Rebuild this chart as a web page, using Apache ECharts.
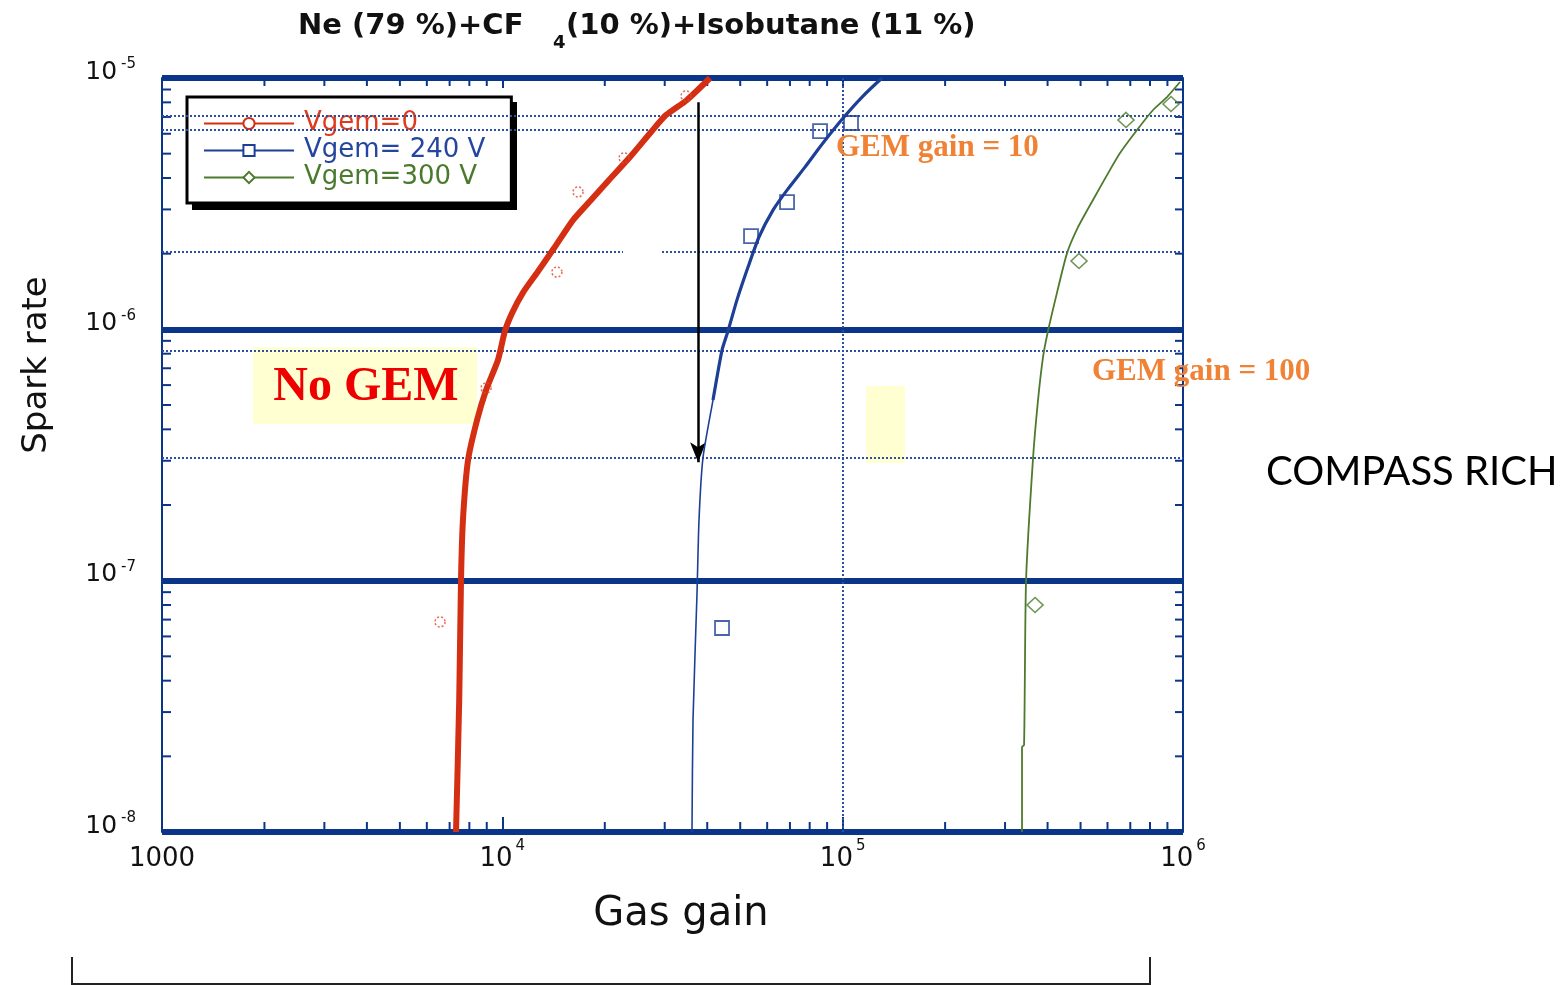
<!DOCTYPE html>
<html>
<head>
<meta charset="utf-8">
<script src="https://cdn.jsdelivr.net/npm/echarts@6/dist/echarts.min.js"></script>
<style>
  html, body { margin: 0; padding: 0; background: #fff; }
  #chart { width: 1565px; height: 985px; }
</style>
</head>
<body>
<div id="chart"></div>
<script>
// ---------------- data ----------------
const seriesNames = ['Vgem=0', 'Vgem= 240 V', 'Vgem=300 V'];

const redCurveX = [7310, 7470, 7560, 7660, 7930, 8430, 8960, 9710, 10180, 10680, 11500, 12650, 14280, 16130, 18220, 20580, 23720, 27350, 30260, 34880, 40750];
const redCurveY = [1e-8, 3.35e-8, 1e-7, 1.74e-7, 3.02e-7, 4.36e-7, 5.74e-7, 7.55e-7, 9.85e-7, 1.16e-6, 1.40e-6, 1.68e-6, 2.13e-6, 2.72e-6, 3.27e-6, 3.93e-6, 4.85e-6, 6.1e-6, 7.12e-6, 8.18e-6, 1e-5];

const blueCurveX = [36080, 36330, 37330, 37830, 38860, 41590, 44210, 46040, 48920, 52720, 56780, 62420, 68640, 77500, 87540, 100900, 114000, 130500];
const blueCurveY = [1e-8, 2.79e-8, 8.93e-8, 1.74e-7, 3.08e-7, 5.23e-7, 8.27e-7, 9.85e-7, 1.31e-6, 1.77e-6, 2.33e-6, 2.98e-6, 3.58e-6, 4.42e-6, 5.51e-6, 6.99e-6, 8.4e-6, 1e-5];

const greenCurveX = [336500, 336500, 341200, 345800, 362600, 375000, 387900, 401200, 426400, 456300, 491500, 543900, 610200, 653100, 732600, 816600, 897400, 980000];
const greenCurveY = [1e-8, 2.18e-8, 2.22e-8, 1.0e-7, 3.08e-7, 5.23e-7, 7.76e-7, 9.85e-7, 1.40e-6, 2.01e-6, 2.55e-6, 3.27e-6, 4.31e-6, 5.03e-6, 6.21e-6, 7.46e-6, 8.4e-6, 9.64e-6];

const redMarkX = [6560, 8960, 14470, 16690, 22790, 34650];
const redMarkY = [6.85e-8, 5.84e-7, 1.69e-6, 3.52e-6, 4.81e-6, 8.48e-6];
const blueMarkX = [44210, 53800, 68640, 85800, 105800];
const blueMarkY = [6.48e-8, 2.35e-6, 3.21e-6, 6.15e-6, 6.62e-6];
const greenMarkX = [367500, 494800, 680000, 922000];
const greenMarkY = [8.0e-8, 1.87e-6, 6.81e-6, 7.88e-6];

// axes
const xMin = 1000, xMax = 1000000;
const yMin = 1e-8, yMax = 1e-5;
const xTickValues = [1000, 10000, 100000, 1000000];
const xTickLabels = ['1000', '10^4', '10^5', '10^6'];
const yTickValues = [1e-8, 1e-7, 1e-6, 1e-5];
const yTickLabels = ['10^-8', '10^-7', '10^-6', '10^-5'];
const xMinorTicks = [2000, 3000, 4000, 5000, 6000, 7000, 8000, 9000,
  20000, 30000, 40000, 50000, 60000, 70000, 80000, 90000,
  200000, 300000, 400000, 500000, 600000, 700000, 800000, 900000];
const yMinorTicks = [2e-8, 3e-8, 4e-8, 5e-8, 6e-8, 7e-8, 8e-8, 9e-8,
  2e-7, 3e-7, 4e-7, 5e-7, 6e-7, 7e-7, 8e-7, 9e-7,
  2e-6, 3e-6, 4e-6, 5e-6, 6e-6, 7e-6, 8e-6, 9e-6];

// dotted reference lines
const hDottedY = [7.1e-6, 6.2e-6, 8.2e-7, 3.07e-7];
const hDottedGapY = 2.04e-6;
const hDottedGapX = [22620, 29460];
const vDottedX = [100000];

// annotation arrow
const arrowX = 37600, arrowYFrom = 8.0e-6, arrowYTo = 2.96e-7;

// ---------------- helpers ----------------
const NAVY = '#0b3589';
const RED = '#d42f12', BLUE = '#1d3f96', GREEN = '#4e7a2e';
const zip = (a, b) => a.map((v, i) => [v, b[i]]);

function labelFormatter(values, labels) {
  return function (v) {
    const e = Math.round(Math.log10(v));
    const i = values.findIndex(t => Math.round(Math.log10(t)) === e);
    if (i < 0) return '';
    const s = labels[i];
    const p = s.indexOf('^');
    return p < 0 ? '{b|' + s + '}' : '{b|' + s.slice(0, p) + '}{sup|' + s.slice(p + 1) + '}';
  };
}

const chart = echarts.init(document.getElementById('chart'), null, { renderer: 'canvas' });

const blueThick = zip(blueCurveX, blueCurveY).filter(p => p[1] >= 5e-7);

const dottedData = hDottedY.map(v => [{ coord: [xMin, v] }, { coord: [xMax, v] }])
  .concat(vDottedX.map(v => [{ coord: [v, yMin] }, { coord: [v, yMax] }]))
  .concat([
    [{ coord: [xMin, hDottedGapY] }, { coord: [hDottedGapX[0], hDottedGapY] }],
    [{ coord: [hDottedGapX[1], hDottedGapY] }, { coord: [xMax, hDottedGapY] }]
  ]);

const option = {
  animation: false,
  backgroundColor: '#ffffff',
  grid: { left: 162, right: 382, top: 78, bottom: 153, containLabel: false },
  legend: {
    orient: 'vertical',
    left: 187, top: 97,
    padding: [13, 26, 12, 16],
    itemWidth: 90, itemHeight: 14, itemGap: 0,
    backgroundColor: '#ffffff',
    borderColor: '#000000', borderWidth: 3,
    textStyle: { fontFamily: 'DejaVu Sans', fontSize: 26, lineHeight: 27, padding: [0, 0, 0, 5] },
    data: [
      { name: seriesNames[0], textStyle: { color: '#e03a1c' } },
      { name: seriesNames[1], textStyle: { color: '#2546a0' } },
      { name: seriesNames[2], textStyle: { color: '#4a7a2e' } }
    ],
    selectedMode: false
  },
  xAxis: [{
    type: 'log', logBase: 10, min: xMin, max: xMax, position: 'bottom',
    axisLine: { show: false },
    axisTick: { show: true, inside: true, length: 15, lineStyle: { color: NAVY, width: 2 } },
    splitLine: { show: false },
    axisLabel: {
      margin: 7, color: '#111',
      formatter: labelFormatter(xTickValues, xTickLabels),
      rich: {
        b: { fontFamily: 'DejaVu Sans', fontSize: 26, lineHeight: 40, color: '#111' },
        sup: { fontFamily: 'DejaVu Sans', fontSize: 15, lineHeight: 15, verticalAlign: 'top', padding: [0, 0, 0, 3], color: '#111' }
      }
    }
  }, {
    type: 'log', logBase: 10, min: xMin, max: xMax, position: 'top',
    axisLine: { show: false },
    axisTick: { show: true, inside: true, length: 10, lineStyle: { color: NAVY, width: 2 } },
    axisLabel: { show: false }, splitLine: { show: false }
  }],
  yAxis: [{
    type: 'log', logBase: 10, min: yMin, max: yMax, position: 'left',
    axisLine: { show: true, lineStyle: { color: NAVY, width: 2 } },
    axisTick: { show: false },
    splitLine: { show: true, lineStyle: { color: NAVY, width: 6 } },
    axisLabel: {
      margin: 26, color: '#111', padding: [0, 0, 12, 0],
      formatter: labelFormatter(yTickValues, yTickLabels),
      rich: {
        b: { fontFamily: 'DejaVu Sans', fontSize: 25, lineHeight: 30, color: '#111' },
        sup: { fontFamily: 'DejaVu Sans', fontSize: 15, lineHeight: 15, verticalAlign: 'top', padding: [0, 0, 0, 4], color: '#111' }
      }
    }
  }, {
    type: 'log', logBase: 10, min: yMin, max: yMax, position: 'right',
    axisLine: { show: true, lineStyle: { color: NAVY, width: 2 } },
    axisTick: { show: false }, axisLabel: { show: false }, splitLine: { show: false }
  }],
  series: [
    // dotted reference lines
    {
      type: 'line', name: 'grid-dotted', data: [], z: 1, silent: true,
      markLine: {
        silent: true, symbol: ['none', 'none'], label: { show: false },
        lineStyle: { color: '#2c4f9e', width: 2, type: [2, 2] },
        emphasis: { disabled: true },
        data: dottedData
      }
    },
    // minor ticks on bottom and top
    {
      type: 'custom', name: 'x-minor-ticks', silent: true, z: 3,
      data: xMinorTicks.map(v => [v, yMin]),
      renderItem: function (params, api) {
        const v = api.value(0);
        const b = api.coord([v, yMin]);
        const t = api.coord([v, yMax]);
        const st = { stroke: NAVY, lineWidth: 2 };
        return { type: 'group', children: [
          { type: 'line', shape: { x1: b[0], y1: b[1], x2: b[0], y2: b[1] - 10 }, style: st },
          { type: 'line', shape: { x1: t[0], y1: t[1], x2: t[0], y2: t[1] + 8 }, style: st }
        ] };
      }
    },
    // minor ticks on left and right
    {
      type: 'custom', name: 'y-minor-ticks', silent: true, z: 3,
      data: yMinorTicks.map(v => [xMin, v]),
      renderItem: function (params, api) {
        const v = api.value(1);
        const l = api.coord([xMin, v]);
        const r = api.coord([xMax, v]);
        const st = { stroke: NAVY, lineWidth: 2 };
        return { type: 'group', children: [
          { type: 'line', shape: { x1: l[0], y1: l[1], x2: l[0] + 9, y2: l[1] }, style: st },
          { type: 'line', shape: { x1: r[0], y1: r[1], x2: r[0] - 8, y2: r[1] }, style: st }
        ] };
      }
    },
    // curves
    {
      type: 'line', name: seriesNames[0], z: 5, data: zip(redCurveX, redCurveY),
      smooth: 0.2,
      showSymbol: false, symbol: 'emptyCircle', symbolSize: 10,
      itemStyle: { color: RED, borderType: 'dotted' },
      lineStyle: { color: RED, width: 6 }
    },
    {
      type: 'line', name: seriesNames[1], z: 5, data: zip(blueCurveX, blueCurveY),
      smooth: 0.2,
      showSymbol: false, symbol: 'emptyRect', symbolSize: 14,
      itemStyle: { color: BLUE },
      lineStyle: { color: BLUE, width: 1.6 }
    },
    {
      type: 'line', name: seriesNames[2], z: 5, data: zip(greenCurveX, greenCurveY),
      smooth: 0.2,
      showSymbol: false, symbol: 'emptyDiamond', symbolSize: 15,
      itemStyle: { color: GREEN },
      lineStyle: { color: GREEN, width: 1.8 }
    },
    {
      type: 'line', name: seriesNames[1], z: 5, data: blueThick,
      smooth: 0.2,
      showSymbol: false, symbol: 'none',
      lineStyle: { color: BLUE, width: 3.2 }
    },
    // markers
    {
      type: 'scatter', name: seriesNames[0], z: 6, data: zip(redMarkX, redMarkY),
      symbol: 'circle', symbolSize: 10,
      itemStyle: { color: 'rgba(255,255,255,0)', borderColor: '#e0482a', borderWidth: 1.5, borderType: [2, 2] }
    },
    {
      type: 'scatter', name: seriesNames[1], z: 6, data: zip(blueMarkX, blueMarkY),
      symbol: 'rect', symbolSize: 14,
      itemStyle: { color: 'rgba(255,255,255,0)', borderColor: BLUE, borderWidth: 1.8 }
    },
    {
      type: 'scatter', name: seriesNames[2], z: 6, data: zip(greenMarkX, greenMarkY),
      symbol: 'diamond', symbolSize: [16, 15],
      itemStyle: { color: 'rgba(255,255,255,0)', borderColor: GREEN, borderWidth: 1.6 }
    },
    // arrow annotation
    {
      type: 'line', name: 'arrow', data: [], z: 7, silent: true,
      markLine: {
        silent: true, label: { show: false }, emphasis: { disabled: true },
        lineStyle: { color: '#000', width: 2.5, type: 'solid' },
        data: [[
          { coord: [arrowX, arrowYFrom], symbol: 'none' },
          { coord: [arrowX, arrowYTo], symbol: 'arrow', symbolSize: [12, 20] }
        ]]
      }
    }
  ],
  graphic: [
    // legend drop shadow
    { type: 'rect', z: 3, zlevel: 0, shape: { x: 192, y: 102, width: 325, height: 108 }, style: { fill: '#000' } },
    // title
    { type: 'text', x: 298, y: 26, z: 10, style: { text: 'Ne (79 %)+CF', font: 'bold 29px "DejaVu Sans"', fill: '#111', textAlign: 'left', textVerticalAlign: 'middle' } },
    { type: 'text', x: 553, y: 43, z: 10, style: { text: '4', font: 'bold 18px "DejaVu Sans"', fill: '#111', textAlign: 'left', textVerticalAlign: 'middle' } },
    { type: 'text', x: 566, y: 26, z: 10, style: { text: '(10 %)+Isobutane (11 %)', font: 'bold 29px "DejaVu Sans"', fill: '#111', textAlign: 'left', textVerticalAlign: 'middle' } },
    // axis names
    { type: 'text', x: 37, y: 365, rotation: Math.PI / 2, z: 10, style: { text: 'Spark rate', font: '34px "DejaVu Sans"', fill: '#111', textAlign: 'center', textVerticalAlign: 'middle' } },
    { type: 'text', x: 681, y: 915, z: 10, style: { text: 'Gas gain', font: '40px "DejaVu Sans"', fill: '#111', textAlign: 'center', textVerticalAlign: 'middle' } },
    // side label
    { type: 'text', x: 1266, y: 472, z: 10, style: { text: 'COMPASS RICH', font: '40px Lato', fill: '#000', textAlign: 'left', textVerticalAlign: 'middle' } },
    // yellow boxes
    { type: 'rect', z: 2, shape: { x: 253, y: 347, width: 224, height: 77 }, style: { fill: '#ffffd2' } },
    { type: 'rect', z: 2, shape: { x: 866, y: 386, width: 39, height: 77 }, style: { fill: '#ffffd2' } },
    // annotations
    { type: 'text', x: 366, y: 388, z: 10, style: { text: 'No GEM', font: 'bold 48px "Liberation Serif"', fill: '#ee0000', textAlign: 'center', textVerticalAlign: 'middle', shadowColor: 'rgba(30,30,30,0.85)', shadowBlur: 1, shadowOffsetX: 3, shadowOffsetY: 3 } },
    { type: 'text', x: 836, y: 148, z: 10, style: { text: 'GEM gain = 10', font: 'bold 31px "Liberation Serif"', fill: '#f08236', textAlign: 'left', textVerticalAlign: 'middle' } },
    { type: 'text', x: 1092, y: 372, z: 10, style: { text: 'GEM gain = 100', font: 'bold 31px "Liberation Serif"', fill: '#f08236', textAlign: 'left', textVerticalAlign: 'middle' } },
    // bottom bracket
    { type: 'polyline', z: 10, shape: { points: [[72, 957], [72, 984], [1150, 984], [1150, 957]] }, style: { stroke: '#222', lineWidth: 2, fill: null } }
  ]
};

chart.setOption(option);
</script>
</body>
</html>
